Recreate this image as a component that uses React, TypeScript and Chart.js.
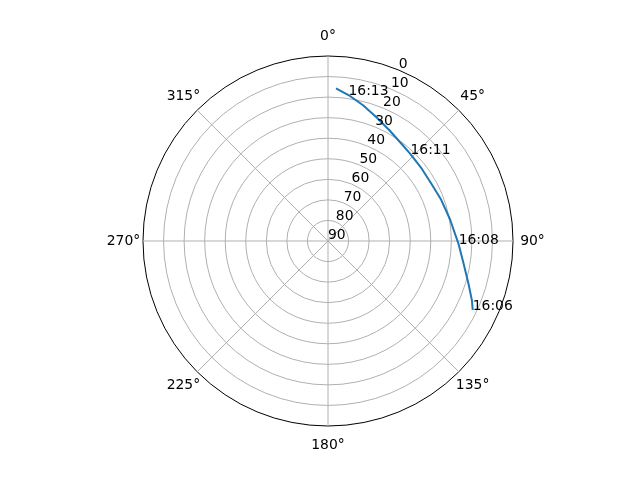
import React, { useEffect, useRef } from 'react';
import { Chart, registerables } from 'chart.js';

Chart.register(...registerables);

// satellite pass, in time order
// azimuth: degrees clockwise from north, elevation: degrees above horizon
const azimuth = [115.5, 112.5, 107, 99.5, 91.5, 80, 70, 61, 52.5, 43.5, 38, 29, 21.5, 14.5, 8, 3];
const elevation = [12.0, 14.2, 18.5, 23.1, 26.4, 29.7, 31.4, 32.5, 32.4, 31.7, 30.9, 28.4, 25.4, 21.8, 18.3, 15.6];
const timeLabels = ['16:06', '', '', '', '16:08', '', '', '', '', '16:11', '', '', '', '', '16:13', ''];

const thetaTicks = [0, 45, 90, 135, 180, 225, 270, 315];
const elevationTicks = [0, 10, 20, 30, 40, 50, 60, 70, 80, 90];
const rLabelAngle = 22.5;

// angular resolution of the radial scale (one category every half degree)
const STEP = 0.5;
const FONT = "13.9px 'DejaVu Sans'";

const azLabels = Array.from({ length: 360 / STEP }, (_, i) => i * STEP);

const polarText = {
  id: 'polarText',
  afterDatasetsUpdate(chart: any) {
    // radar lines are closed loops; the pass track is an open curve
    const line = chart.getDatasetMeta(0).dataset;
    if (line) {
      line._loop = false;
      delete line._segments;
      delete line._path;
    }
  },
  afterDraw(chart: any) {
    const r = chart.scales.r;
    const ctx = chart.ctx;
    ctx.save();
    ctx.fillStyle = '#000000';
    ctx.font = FONT;

    ctx.textAlign = 'center';
    ctx.textBaseline = 'middle';
    thetaTicks.forEach((t) => {
      const p = r.getPointPosition(t / STEP, r.drawingArea + 19.5);
      ctx.fillText(`${t}°`, p.x, p.y);
    });

    ctx.textAlign = 'left';
    ctx.textBaseline = 'alphabetic';
    elevationTicks.forEach((v) => {
      const p = r.getPointPositionForValue(rLabelAngle / STEP, v);
      ctx.fillText(String(v), p.x, p.y - 2.5);
    });

    azimuth.forEach((az, i) => {
      if (!timeLabels[i]) return;
      const p = r.getPointPositionForValue(Math.round(az / STEP), elevation[i]);
      ctx.fillText(timeLabels[i], p.x, p.y);
    });
    ctx.restore();
  }
};

const SkyPlot: React.FC = () => {
  const canvasRef = useRef<HTMLCanvasElement | null>(null);

  useEffect(() => {
    if (!canvasRef.current) return;

    const track: (number | null)[] = azLabels.map(() => null);
    azimuth.forEach((az, i) => {
      track[Math.round(az / STEP)] = elevation[i];
    });

    const chart = new Chart(canvasRef.current, {
      type: 'radar',
      data: {
        labels: azLabels,
        datasets: [
          {
            label: 'pass',
            data: track,
            borderColor: '#1f77b4',
            borderWidth: 2,
            pointRadius: 0,
            pointHitRadius: 0,
            fill: false,
            spanGaps: true,
            tension: 0,
            borderJoinStyle: 'round'
          }
        ]
      },
      options: {
        responsive: false,
        animation: false,
        events: [],
        layout: { padding: { left: 143, right: 127, top: 56, bottom: 54 } },
        plugins: {
          legend: { display: false },
          tooltip: { enabled: false }
        },
        scales: {
          r: {
            min: 0,
            max: 90,
            reverse: true,
            ticks: { display: false, stepSize: 10 },
            pointLabels: { display: false },
            grid: {
              circular: true,
              color: (c: any) => (c.tick && c.tick.value === 0 ? '#000000' : '#b0b0b0'),
              lineWidth: 1
            },
            angleLines: {
              color: '#b0b0b0',
              lineWidth: (c: any) => ((c.index * STEP) % 45 === 0 ? 1 : 0)
            }
          }
        }
      },
      plugins: [polarText]
    });

    return () => {
      chart.destroy();
    };
  }, []);

  return (
    <div style={{ position: 'fixed', left: 0, top: 0, width: 640, height: 480, background: '#ffffff' }}>
      <canvas ref={canvasRef} width={640} height={480} style={{ display: 'block' }} />
    </div>
  );
};

export default function App() {
  return <SkyPlot />;
}
